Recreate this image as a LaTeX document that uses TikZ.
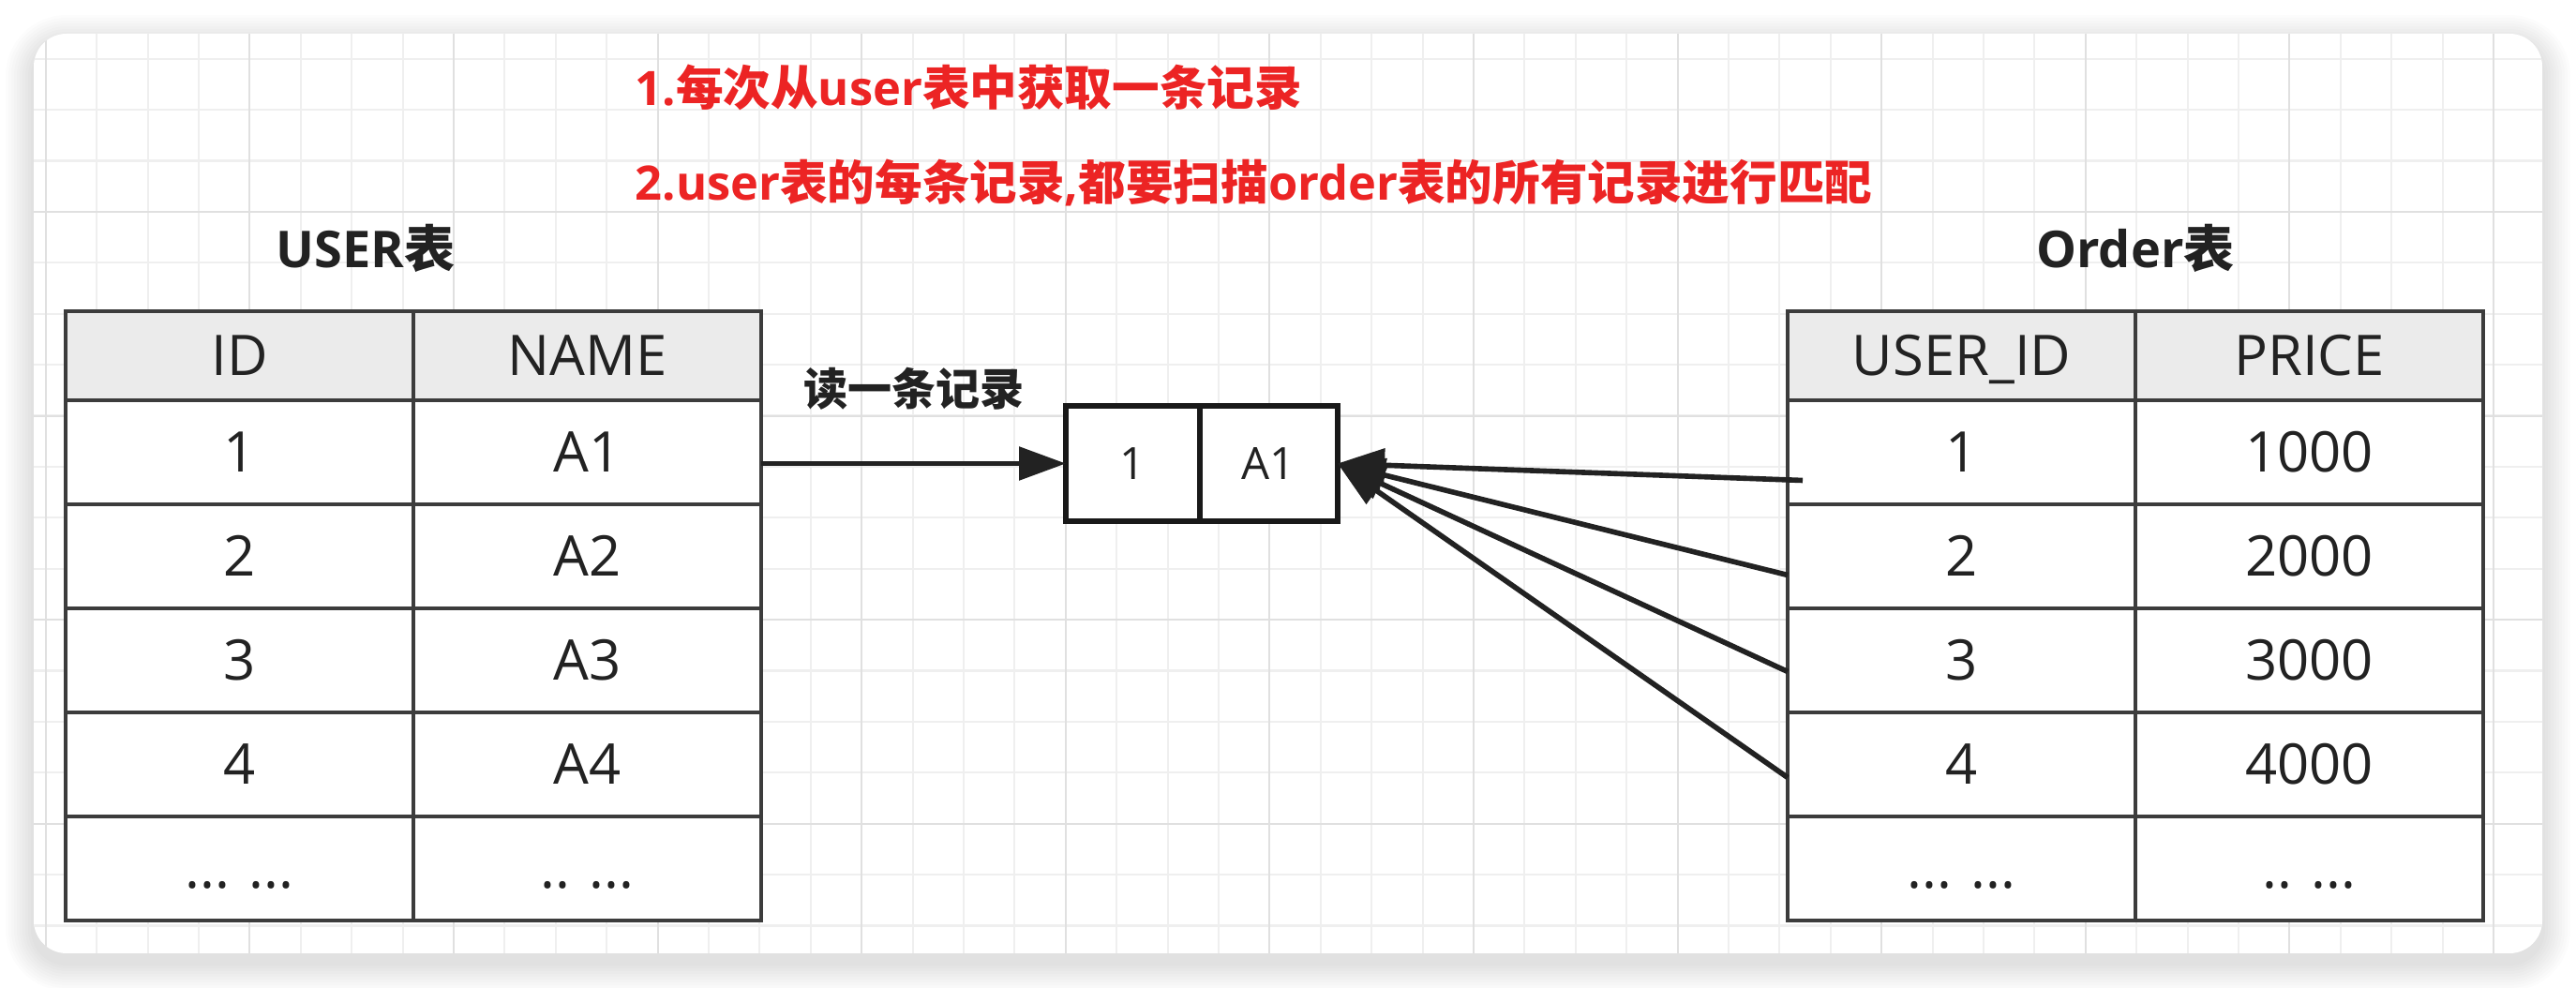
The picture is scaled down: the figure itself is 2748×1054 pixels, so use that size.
\documentclass[tikz,border=0pt]{standalone}
\usepackage{fontspec}
\setmainfont{Open Sans}
\newfontfamily\zhfont{Noto Sans CJK SC}
\newcommand{\zh}[1]{{\zhfont #1}}
\newcommand{\longdots}{... ...}
\newcommand{\shortdots}{.. ...}
\usetikzlibrary{positioning, arrows.meta}
\definecolor{gridminor}{HTML}{EFEFEF}
\definecolor{gridmajor}{HTML}{E0E0E0}
\definecolor{headgray}{HTML}{EBEBEB}
\definecolor{tabline}{HTML}{3C3C3C}
\definecolor{inkdark}{HTML}{222222}
\definecolor{notered}{HTML}{EC2424}
\tikzset{
x=0.1mm, y=-0.1mm, % one unit is one pixel of the screenshot, y going down
>={Triangle[length=5mm, width=3.5mm]}, % big filled heads
cell/.style={draw=tabline, line width=0.9pt, fill=white, minimum width=37.1mm, minimum height=11.1mm,
  inner sep=0pt, outer sep=0pt, text=inkdark, font=\fontsize{17pt}{20pt}\selectfont,
  text height=12.1pt, text depth=0pt}, % one table cell
headcell/.style={cell, fill=headgray, minimum height=9.5mm}, % grey header cell
recbox/.style={draw=black!90, line width=1.7pt, fill=white, minimum height=12.3mm, inner sep=0pt,
  outer sep=0pt, text=inkdark, font=\fontsize{13.5pt}{16pt}\selectfont}, % the record read out
tabtitle/.style={text=inkdark, font=\fontsize{15.4pt}{18pt}\selectfont\bfseries},
readnote/.style={text=inkdark, font=\fontsize{13.4pt}{16pt}\selectfont\bfseries},
rednote/.style={text=notered, anchor=west, inner sep=0pt, font=\fontsize{14.4pt}{17pt}\selectfont\bfseries},
link/.style={->, line width=1.6pt, draw=inkdark}, % arrows
minorline/.style={draw=gridminor, line width=0.6pt},
majorline/.style={draw=gridmajor, line width=0.6pt},
}
\begin{document}
\begin{tikzpicture}
\useasboundingbox (0,0) rectangle (2748,1054);
\fill[white] (0,0) rectangle (2748,1054);
% card with a soft shadow
\foreach \s [evaluate=\s as \r using 3.5+\s/10] in {3,6,...,30}
  \fill[black, opacity=0.012, rounded corners=\r mm] (36-\s,36-\s+10) rectangle (2712+\s,1017+\s+10);
\fill[white, rounded corners=3.5mm] (36,36) rectangle (2712,1017);
\begin{scope}
  \clip[rounded corners=3.5mm] (36,36) rectangle (2712,1017);
  \foreach \x in {48.8,103.2,...,2712} \draw[minorline] (\x,36) -- (\x,1017);
  \foreach \y in {62.7,117.1,...,1017} \draw[minorline] (36,\y) -- (2712,\y);
  \foreach \x in {48.8,266.4,...,2712} \draw[majorline] (\x,36) -- (\x,1017);
  \foreach \y in {8.5,226.1,...,1017} \draw[majorline] (36,\y) -- (2712,\y);
\end{scope}

% notes
\node[rednote] (note1) at (677,93) {1.\zh{每次从}user\zh{表中获取一条记录}};
\node[rednote] (note2) at (677,195) {2.user\zh{表的每条记录},\zh{都要扫描}order\zh{表的所有记录进行匹配}};

% USER table
\node[tabtitle] (user-title) at (390,265) {USER\zh{表}};
\node[headcell] (u-id-0) at (255.5,379.5) {ID};
\node[headcell, right=0pt of u-id-0] (u-name-0) {NAME};
\foreach \i/\a/\b [remember=\i as \j (initially 0)] in {1/1/A1, 2/2/A2, 3/3/A3, 4/4/A4, 5/\longdots/\shortdots} {
  \node[cell, below=0pt of u-id-\j] (u-id-\i) {\a};
  \node[cell, right=0pt of u-id-\i] (u-name-\i) {\b};
}

% Order table
\node[tabtitle] (order-title) at (2278,265) {Order\zh{表}};
\node[headcell] (o-id-0) at (2092.5,379.5) {USER\_ID};
\node[headcell, right=0pt of o-id-0] (o-price-0) {PRICE};
\foreach \i/\a/\b [remember=\i as \j (initially 0)] in {1/1/1000, 2/2/2000, 3/3/3000, 4/4/4000, 5/\longdots/\shortdots} {
  \node[cell, below=0pt of o-id-\j] (o-id-\i) {\a};
  \node[cell, right=0pt of o-id-\i] (o-price-\i) {\b};
}

% the record that was read
\node[recbox, minimum width=14.3mm] (rec-id) at (1208.5,494.5) {1};
\node[recbox, minimum width=14.7mm, right=0pt of rec-id] (rec-name) {A1};
\node[readnote] (read-note) at (975,415) {\zh{读一条记录}};

\draw[link] (u-name-1.east |- rec-id.west) -- (rec-id.west);
\path
  ([shift={(16,30)}]o-id-1.west) edge[link] (rec-name.east)
  ([shift={(0,20)}]o-id-2.west) edge[link] (rec-name.east)
  ([shift={(0,12)}]o-id-3.west) edge[link] (rec-name.east)
  ([shift={(0,14)}]o-id-4.west) edge[link] (rec-name.east)
  ;
\end{tikzpicture}
\end{document}
